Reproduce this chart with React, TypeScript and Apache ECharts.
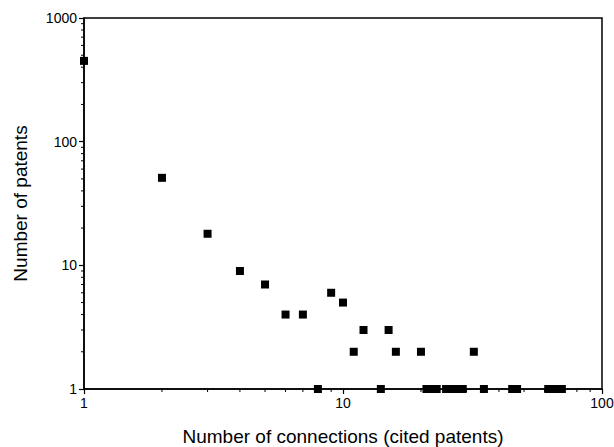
import React, { useEffect, useRef } from "react";
import * as echarts from "echarts";

const connections = [1, 2, 3, 4, 5, 6, 7, 8, 9, 10, 11, 12, 14, 15, 16, 20, 21, 22, 23, 25, 26, 27, 28, 29, 32, 35, 45, 47, 62, 65, 68, 70];
const patents = [450, 51, 18, 9, 7, 4, 4, 1, 6, 5, 2, 3, 1, 3, 2, 2, 1, 1, 1, 1, 1, 1, 1, 1, 2, 1, 1, 1, 1, 1, 1, 1];
const xDecades = [1, 10];
const yDecades = [1, 10, 100];
const minorMultipliers = [2, 3, 4, 5, 6, 7, 8, 9];
const xTitle = "Number of connections (cited patents)";
const yTitle = "Number of patents";

export default function App() {
  const ref = useRef<HTMLDivElement>(null);
  useEffect(() => {
    const chart = echarts.init(ref.current!, null, { renderer: "svg" });
    const font = "Liberation Sans, Arial, sans-serif";
    const axisCommon = {
      axisLine: { show: true, onZero: false, lineStyle: { color: "#000", width: 1.5 } },
      axisTick: { show: true, inside: false, length: 5, lineStyle: { color: "#000", width: 1.2 } },
      splitLine: { show: false },
      nameTextStyle: { color: "#000", fontSize: 19, fontFamily: font },
    };
    const label = { color: "#000", fontSize: 14, fontFamily: font, margin: 7, formatter: (v: number) => String(Math.round(v)) };
    const xMinor: number[] = [];
    xDecades.forEach((d) => minorMultipliers.forEach((m) => xMinor.push(d * m)));
    const yMinor: number[] = [];
    yDecades.forEach((d) => minorMultipliers.forEach((m) => yMinor.push(d * m)));
    chart.setOption({
      animation: false,
      backgroundColor: "#fff",
      grid: { left: 84, right: 12, top: 18, bottom: 58, show: true, borderColor: "#000", borderWidth: 1.5, containLabel: false, outerBoundsMode: "none" },
      xAxis: {
        type: "log",
        logBase: 10,
        min: 1,
        max: 100,
        name: xTitle,
        nameLocation: "middle",
        nameGap: 38,
        ...axisCommon,
        axisLabel: label,
      },
      yAxis: {
        type: "log",
        logBase: 10,
        min: 1,
        max: 1000,
        name: yTitle,
        nameLocation: "middle",
        nameGap: 54,
        ...axisCommon,
        axisLabel: label,
      },
      series: [
        {
          type: "scatter",
          symbol: "rect",
          symbolSize: 8,
          itemStyle: { color: "#000", opacity: 1 },
          data: connections.map((c, i) => [c, patents[i]]),
        },
        {
          type: "custom",
          clip: false,
          silent: true,
          data: xMinor.map((v) => [v, 1]),
          renderItem: (params: any, api: any) => {
            const p = api.coord([api.value(0), api.value(1)]);
            return { type: "line", shape: { x1: p[0], y1: p[1], x2: p[0], y2: p[1] + 3 }, style: { stroke: "#000", lineWidth: 1 } };
          },
        },
        {
          type: "custom",
          clip: false,
          silent: true,
          data: yMinor.map((v) => [1, v]),
          renderItem: (params: any, api: any) => {
            const p = api.coord([api.value(0), api.value(1)]);
            return { type: "line", shape: { x1: p[0] - 3, y1: p[1], x2: p[0], y2: p[1] }, style: { stroke: "#000", lineWidth: 1 } };
          },
        },
      ],
    });
    return () => chart.dispose();
  }, []);
  return <div ref={ref} style={{ position: "absolute", left: 0, top: 0, width: 614, height: 447 }} />;
}
